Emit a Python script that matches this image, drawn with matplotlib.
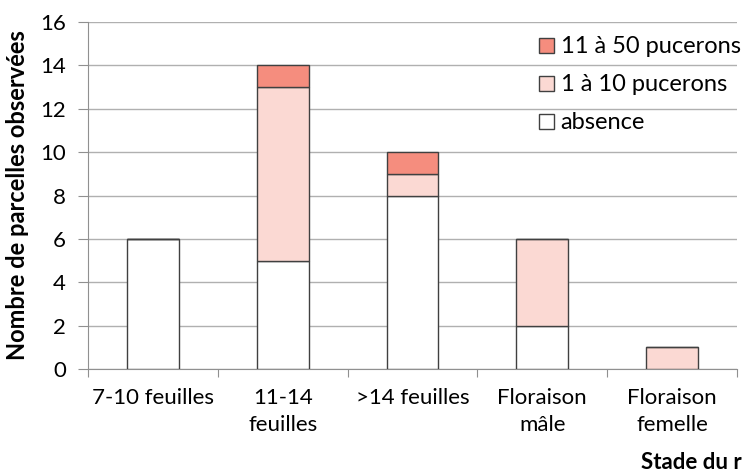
import numpy as np
from matplotlib import pyplot as plt

plt.rcParams['font.family'] = ['Lato', 'DejaVu Sans']

categories = ["7-10 feuilles", "11-14\nfeuilles", ">14 feuilles", "Floraison\nmâle", "Floraison\nfemelle"]
absence = [6, 5, 8, 2, 0]
p_1_10 = [0, 8, 1, 4, 1]
p_11_50 = [0, 1, 1, 0, 0]

fig = plt.figure(figsize=(7.45, 4.72), dpi=100)
ax = fig.add_axes([88/745, 103/472, (737-88)/745, (369-22)/472])

x = np.arange(len(categories))
edge = "#404040"
b1 = ax.bar(x, absence, width=0.4, color="white", edgecolor=edge, linewidth=1, zorder=3, label="absence")
b2 = ax.bar(x, p_1_10, width=0.4, bottom=absence, color="#FBD9D3", edgecolor=edge, linewidth=1, zorder=3, label="1 à 10 pucerons")
bottom2 = np.array(absence) + np.array(p_1_10)
b3 = ax.bar(x, p_11_50, width=0.4, bottom=bottom2, color="#F58D7E", edgecolor=edge, linewidth=1, zorder=3, label="11 à 50 pucerons")

ax.set_xlim(-0.5, len(categories) - 0.5)
ax.set_ylim(0, 16)
ax.set_yticks(range(0, 17, 2))
ax.yaxis.grid(True, color="#B0B0B0", linewidth=1, zorder=0)

ax.set_xticks(np.arange(-0.5, len(categories), 1), minor=False)
ax.set_xticklabels([])
ax.set_xticks(x, minor=True)
ax.set_xticklabels(categories, minor=True, fontsize=16, linespacing=1.4)
ax.tick_params(axis="x", which="minor", length=0, pad=14)
ax.tick_params(axis="x", which="major", length=6, color="#909090", direction="out")
ax.tick_params(axis="y", length=7, color="#909090", labelsize=16, pad=9)

for s in ["top", "right"]:
    ax.spines[s].set_visible(False)
ax.spines["left"].set_color("#909090")
ax.spines["bottom"].set_color("#909090")

ax.set_ylabel("Nombre de parcelles observées", fontsize=17, fontweight="bold", labelpad=8)
fig.text(641/745, -1/472, "Stade du r", fontsize=16, fontweight="bold", ha="left", va="bottom")

leg = ax.legend(handles=[b3, b2, b1], loc="upper left", bbox_to_anchor=(530/745, 445/472),
                bbox_transform=fig.transFigure, frameon=False, fontsize=17,
                handlelength=0.6, handleheight=0.6, handletextpad=0.3, labelspacing=0.72,
                borderaxespad=0)
for h in leg.legend_handles:
    h.set_linewidth(1)

plt.savefig("out.png", dpi=100)
